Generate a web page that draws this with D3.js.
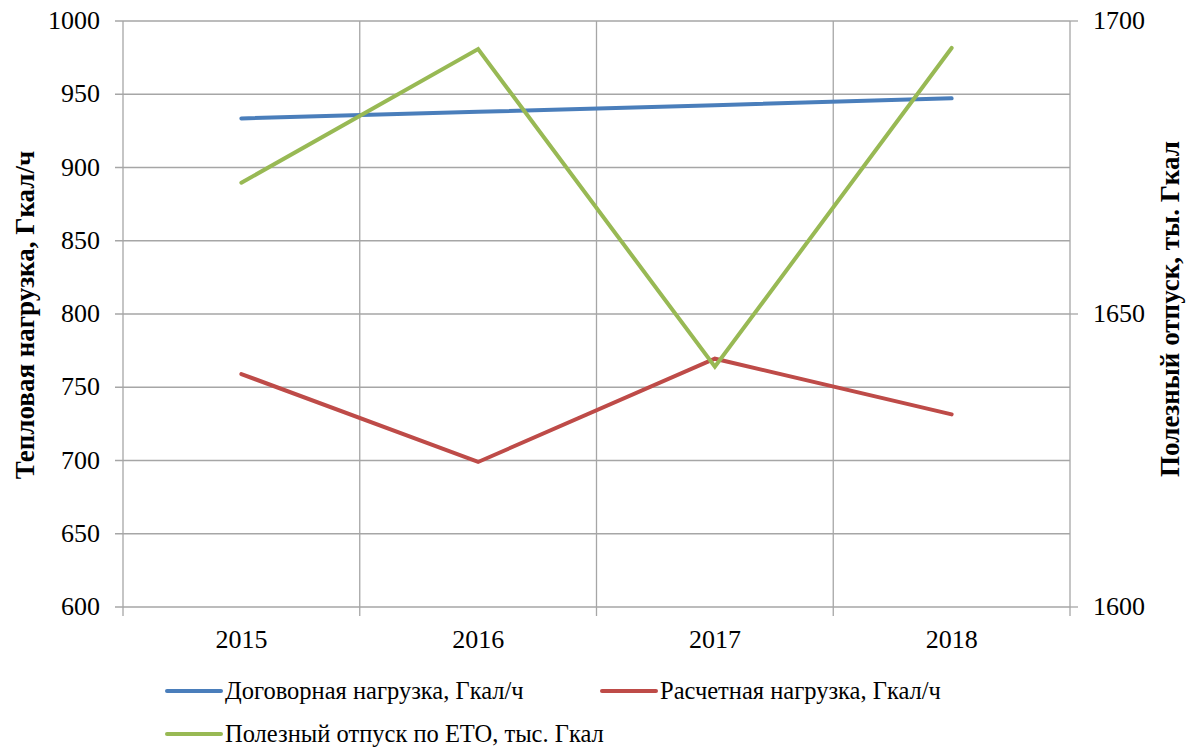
<!DOCTYPE html>
<html>
<head>
<meta charset="utf-8">
<script src="https://cdn.jsdelivr.net/npm/d3@7"></script>
</head>
<body style="margin:0; background:#fff">
<div id="chart"></div>
<script>
const years = ['2015', '2016', '2017', '2018']
const contractLoad = [933.5, 938, 942.5, 947.2]
const calcLoad = [759, 699, 769.5, 731.5]
const usefulSupply = [1672.4, 1695.2, 1641, 1695.4]
const leftTicks = [600, 650, 700, 750, 800, 850, 900, 950, 1000]
const rightTicks = [1600, 1650, 1700]
const seriesNames = ['Договорная нагрузка, Гкал/ч', 'Расчетная нагрузка, Гкал/ч', 'Полезный отпуск по ЕТО, тыс. Гкал']

const width = 1194
const height = 748
const plotLeft = 123, plotRight = 1070, plotTop = 21, plotBottom = 607
const font = '"Liberation Serif"'

const svg = d3.select('#chart').append('svg')
    .attr('width', width)
    .attr('height', height)

const xScale = d3.scaleBand().domain(years).range([plotLeft, plotRight])
const yLeft = d3.scaleLinear().domain([600, 1000]).range([plotBottom, plotTop])
const yRight = d3.scaleLinear().domain([1600, 1700]).range([plotBottom, plotTop])

// Grid
svg.append('g').selectAll('line')
    .data(leftTicks)
    .enter().append('line')
    .attr('x1', plotLeft - 8).attr('x2', plotRight)
    .attr('y1', d => yLeft(d)).attr('y2', d => yLeft(d))
    .attr('stroke', '#a6a6a6').attr('stroke-width', 1.3)

const bounds = years.map(d => xScale(d)).concat([plotRight])
svg.append('g').selectAll('line')
    .data(bounds)
    .enter().append('line')
    .attr('x1', d => d).attr('x2', d => d)
    .attr('y1', plotTop).attr('y2', plotBottom + 9)
    .attr('stroke', '#a6a6a6').attr('stroke-width', 1.3)

// right axis ticks
svg.append('g').selectAll('line')
    .data(rightTicks)
    .enter().append('line')
    .attr('x1', plotRight).attr('x2', plotRight + 8)
    .attr('y1', d => yRight(d)).attr('y2', d => yRight(d))
    .attr('stroke', '#a6a6a6').attr('stroke-width', 1.3)

// Tick labels
svg.append('g').selectAll('text')
    .data(leftTicks)
    .enter().append('text')
    .attr('x', 100).attr('y', d => yLeft(d) + 8)
    .attr('text-anchor', 'end')
    .attr('font-family', font).style('font-family', font)
    .attr('font-size', '26px')
    .text(d => d)

svg.append('g').selectAll('text')
    .data(rightTicks)
    .enter().append('text')
    .attr('x', 1093).attr('y', d => yRight(d) + 8)
    .attr('font-family', font).style('font-family', font)
    .attr('font-size', '26px')
    .text(d => d)

svg.append('g').selectAll('text')
    .data(years)
    .enter().append('text')
    .attr('x', d => xScale(d) + xScale.bandwidth() / 2)
    .attr('y', 648)
    .attr('text-anchor', 'middle')
    .attr('font-family', font).style('font-family', font)
    .attr('font-size', '26px')
    .text(d => d)

// Axis titles
svg.append('text')
    .attr('transform', 'translate(34,315) rotate(-90)')
    .attr('text-anchor', 'middle')
    .attr('font-family', font).style('font-family', font)
    .attr('font-size', '27px')
    .attr('font-weight', 'bold')
    .text('Тепловая нагрузка, Гкал/ч')

svg.append('text')
    .attr('transform', 'translate(1179,309) rotate(-90)')
    .attr('text-anchor', 'middle')
    .attr('font-family', font).style('font-family', font)
    .attr('font-size', '27px')
    .attr('font-weight', 'bold')
    .text('Полезный отпуск, ты. Гкал')

// Lines
const colors = ['#4a7ebb', '#be4b48', '#98b954']
const cx = d => xScale(d) + xScale.bandwidth() / 2

const lineLeft = d3.line().x((d, i) => cx(years[i])).y(d => yLeft(d))
const lineRight = d3.line().x((d, i) => cx(years[i])).y(d => yRight(d))

svg.append('path').datum(contractLoad)
    .attr('d', lineLeft).attr('fill', 'none')
    .attr('stroke', colors[0]).attr('stroke-width', 4).attr('stroke-linecap', 'round')
svg.append('path').datum(calcLoad)
    .attr('d', lineLeft).attr('fill', 'none')
    .attr('stroke', colors[1]).attr('stroke-width', 4).attr('stroke-linecap', 'round')
svg.append('path').datum(usefulSupply)
    .attr('d', lineRight).attr('fill', 'none')
    .attr('stroke', colors[2]).attr('stroke-width', 4).attr('stroke-linecap', 'round')

// Legend
const legendPos = [[167, 691], [602, 691], [167, 734]]
const legend = svg.append('g').selectAll('g')
    .data(seriesNames)
    .enter().append('g')
    .attr('transform', (d, i) => 'translate(' + legendPos[i][0] + ',' + legendPos[i][1] + ')')

legend.append('line')
    .attr('x1', 0).attr('x2', 54)
    .attr('stroke', (d, i) => colors[i])
    .attr('stroke-width', 4).attr('stroke-linecap', 'round')

legend.append('text')
    .attr('x', 58).attr('y', 8)
    .attr('font-family', font).style('font-family', font)
    .attr('font-size', '24.5px')
    .text(d => d)
</script>
</body>
</html>
